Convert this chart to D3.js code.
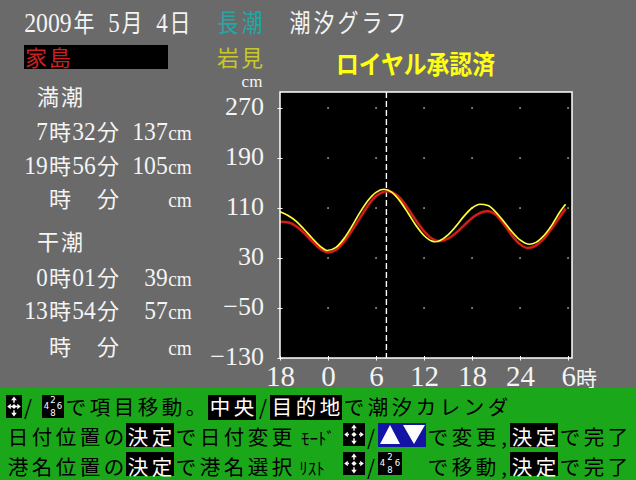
<!DOCTYPE html>
<html><head><meta charset="utf-8">
<script src="https://cdn.jsdelivr.net/npm/d3@7"></script>
<style>html,body{margin:0;padding:0;background:#6a6a6a;overflow:hidden}</style>
</head><body>
<svg id="c" width="636" height="480"></svg>
<script>
// ---------- data ----------
const dateTitle = "2009年 5月 4日";
const tideType = "長潮";
const chartTitle = "潮汐グラフ";
const portA = "家島";
const portB = "岩見";
const approval = "ロイヤル承認済";
const unitLabel = "cm";
const highTideLabel = " 満潮";
const lowTideLabel = " 干潮";
const highTides = [" 7時32分 137cm", "19時56分 105cm", "  時  分    cm"];
const lowTides = [" 0時01分  39cm", "13時54分  57cm", "  時  分    cm"];

const yTicks = [-130, -50, 30, 110, 190, 270];
const xTicks = [-6, 0, 6, 12, 18, 24, 30];
const xTickLabels = ["18", "0", "6", "12", "18", "24", "6"];
const hourUnit = "時";
const nowHour = 7.3;

// 家島 (red)
const redHours  = [-6, -5, -4, -3, -2, -1, 0, 1, 2, 3, 4, 5, 6, 7, 7.4, 8, 9, 10, 11, 12, 13, 13.9, 15, 16, 17, 18, 19, 19.9, 21, 22, 23, 24, 25, 26, 27, 28, 29, 29.7];
const redLevels = [88, 87, 81, 70, 57, 45, 39, 43, 56, 74, 94, 114, 129, 136, 137, 135, 126, 109, 90, 73, 61, 57, 61, 70, 82, 94, 102, 105, 99, 84, 66, 52, 46, 50, 61, 78, 96, 109];
// 岩見 (yellow)
const yellowHours  = [-6, -5, -4, -3, -2, -1, -0.1, 1, 2, 3, 4, 5, 6, 7, 8, 9, 10, 11, 12, 13, 13.4, 14, 15, 16, 17, 18, 19, 20, 21, 22, 23, 24, 25.2, 26, 27, 28, 29, 29.7];
const yellowLevels = [104, 98, 89, 76, 62, 49, 42, 47, 61, 81, 103, 122, 135, 140, 135, 121, 102, 82, 66, 57, 56, 58, 67, 81, 97, 110, 116, 114, 103, 88, 72, 59, 52, 55, 66, 83, 104, 116];

const help1 = ["/", "で項目移動。", "中央", "/", "目的地", "で潮汐カレンダ"];
const help2 = ["日付位置の", "決定", "で日付変更", "ﾓｰﾄﾞ", "/", "で変更,", "決定", "で完了"];
const help3 = ["港名位置の", "決定", "で港名選択", "ﾘｽﾄ", "/", "で移動,", "決定", "で完了"];
const padDigits = ["2", "4", "6", "8"];

// ---------- drawing ----------
const svg = d3.select('#c');
const FONT_SERIF = '"Liberation Serif", "DejaVu Serif", serif';
const FONT_CJK = '"Noto Sans CJK JP", "Noto Sans CJK SC", sans-serif';

svg.append('rect').attr('width', 636).attr('height', 480).attr('fill', '#6a6a6a');

function cat(ch) {
  const c = ch.codePointAt(0);
  if (ch === ' ') return 's';
  if (c >= 0x61 && c <= 0x7a) return 'l';
  if (c < 0x80) return 'a';
  if (c >= 0xFF61 && c <= 0xFF9F) return 'k';
  return 'f';
}
function cw(k) { return k === 'f' ? 24 : 12; }
function gridWidth(str) { return d3.sum([...str], ch => cw(cat(ch))); }
function textBlock(parent) {
  return parent.append('text').attr('text-anchor', 'middle').style('white-space', 'pre');
}
// lays characters of str on a 12/24px character grid as tspans of text t
function gridSpans(t, str, x0, y, o) {
  const chars = [...str];
  let x = o.anchor === 'end' ? x0 - gridWidth(str) : x0;
  let i = 0;
  while (i < chars.length) {
    const k = cat(chars[i]);
    let j = i + 1;
    if (k !== 'f') while (j < chars.length && cat(chars[j]) === k) j++;
    const s = chars.slice(i, j).join('');
    const w = (j - i) * cw(k);
    const ts = t.append('tspan').attr('x', x + w / 2).attr('y', y).attr('fill', o.fill).text(s);
    if (k === 'a' || k === 'l' || k === 's') {
      ts.attr('font-family', o.asciiFamily || FONT_SERIF)
        .attr('font-size', k === 'l' ? (o.low || o.num) : o.num);
    } else {
      ts.attr('font-family', FONT_CJK).attr('font-size', k === 'k' ? (o.kana || o.cjk) : o.cjk);
    }
    if (k === 'a' || k === 'l') {
      const nat = ts.node().getComputedTextLength();
      if (nat > w - 0.5) ts.attr('textLength', w - 0.5).attr('lengthAdjust', 'spacingAndGlyphs');
    }
    x += w; i = j;
  }
}

// header (row 1 drawn with a slight vertical stretch: tall, narrow digits)
const hdr1 = {num: 24, cjk: 21, low: 24};
const hdr2 = {num: 24, cjk: 22, low: 22};
svg.append('rect').attr('x', 24).attr('y', 45).attr('width', 144).attr('height', 24).attr('fill', '#000');
const th1 = textBlock(svg).attr('transform', 'translate(0,31.5) scale(1,1.18)');
gridSpans(th1, dateTitle, 24, 0, Object.assign({fill: '#f4f4f4'}, hdr1));
gridSpans(th1, tideType, 216, 0, Object.assign({fill: '#22a6a6'}, hdr1));
gridSpans(th1, chartTitle, 288, 0, Object.assign({fill: '#f4f4f4'}, hdr1));
const th2 = textBlock(svg);
gridSpans(th2, portA, 24, 65.5, Object.assign({fill: '#cc2020'}, hdr2));
gridSpans(th2, portB, 216, 65.5, Object.assign({fill: '#c8c82a'}, hdr2));
gridSpans(th2, unitLabel, 240, 87.2, {fill: '#f4f4f4', num: 17, low: 17, cjk: 17});
svg.append('text').attr('transform', 'translate(336,74) scale(1,1.12)')
  .attr('font-family', FONT_CJK).attr('font-weight', 'bold').attr('font-size', 23)
  .attr('fill', '#ffff10').attr('textLength', 159).attr('lengthAdjust', 'spacingAndGlyphs')
  .text(approval);

// left panel
const lp = {fill: '#f4f4f4', num: 25, cjk: 22, low: 22};
const tl = textBlock(svg);
gridSpans(tl, highTideLabel, 24, 105, lp);
const hiBase = [140, 174, 207];
highTides.forEach((s, i) => gridSpans(tl, s, 24, hiBase[i], lp));
gridSpans(tl, lowTideLabel, 24, 250, lp);
const loBase = [286, 319, 355];
lowTides.forEach((s, i) => gridSpans(tl, s, 24, loBase[i], lp));

// chart
const x = d3.scaleLinear().domain([-6, 30.5]).range([280, 572]);
const y = d3.scaleLinear().domain([-130, 295.6]).range([358, 92]);
const [x0, x1] = x.range(), [y0, y1] = y.range();

svg.append('rect').attr('x', x0).attr('y', y1).attr('width', x1 - x0).attr('height', y0 - y1).attr('fill', '#000');

const dots = [];
xTicks.filter(d => d > x.domain()[0]).forEach(xt => yTicks.filter(d => d > y.domain()[0]).forEach(yt => dots.push([xt, yt])));
svg.append('g').selectAll('rect').data(dots).join('rect')
  .attr('x', d => x(d[0]) - 0.6).attr('y', d => y(d[1]) - 0.6)
  .attr('width', 1.3).attr('height', 1.3).attr('fill', '#fff');

const line = d3.line().x(d => x(d[0])).y(d => y(d[1])).curve(d3.curveMonotoneX);
const redData = redHours.map((h, i) => [h, redLevels[i]]);
const yellowData = yellowHours.map((h, i) => [h, yellowLevels[i]]);

svg.append('line').attr('x1', x(nowHour)).attr('x2', x(nowHour)).attr('y1', y1).attr('y2', y0)
  .attr('stroke', '#fff').attr('stroke-width', 1.4).attr('stroke-dasharray', '6,3');

svg.append('path').datum(redData).attr('d', line).attr('fill', 'none')
  .attr('stroke', '#8a2a00').attr('stroke-width', 3.4).attr('stroke-opacity', 0.45);
svg.append('path').datum(redData).attr('d', line).attr('fill', 'none')
  .attr('stroke', '#d81c1c').attr('stroke-width', 2.2);
svg.append('path').datum(yellowData).attr('d', line).attr('fill', 'none')
  .attr('stroke', '#ffff3c').attr('stroke-width', 1.7);

svg.append('rect').attr('x', x0).attr('y', y1).attr('width', x1 - x0).attr('height', y0 - y1)
  .attr('fill', 'none').attr('stroke', '#fff').attr('stroke-width', 1.5);

const gy = svg.append('g').attr('transform', `translate(${x0},0)`)
  .call(d3.axisLeft(y).tickValues(yTicks).tickSizeInner(3).tickSizeOuter(0).tickPadding(13));
gy.select('.domain').remove();
gy.selectAll('.tick line').attr('stroke', '#fff').attr('x1', -2.5).attr('x2', 2.5);
gy.selectAll('.tick text').attr('fill', '#f4f4f4').attr('font-family', FONT_SERIF)
  .attr('font-size', 26).attr('dy', '0.24em');

const gx = svg.append('g').attr('transform', `translate(0,${y0})`)
  .call(d3.axisBottom(x).tickValues(xTicks).tickFormat((d, i) => xTickLabels[i])
    .tickSizeInner(2.5).tickSizeOuter(0).tickPadding(0));
gx.select('.domain').remove();
gx.selectAll('.tick line').attr('stroke', '#fff').attr('y1', -2).attr('y2', 2.5);
gx.selectAll('.tick text').attr('fill', '#f4f4f4').attr('font-family', FONT_SERIF)
  .attr('font-size', 29).attr('y', 28).attr('dy', 0);
const lastTick = gx.selectAll('.tick text').filter((d, i) => i === xTicks.length - 1);
lastTick.attr('text-anchor', 'start').attr('x', -7);
lastTick.append('tspan').attr('font-family', FONT_CJK).attr('font-size', 21).text(hourUnit);

// bottom help area
svg.append('rect').attr('x', 0).attr('y', 388).attr('width', 636).attr('height', 92).attr('fill', '#1aa81a');
const bt = {fill: '#000', num: 20.5, cjk: 20.5, kana: 17, asciiFamily: FONT_CJK};
const bw = Object.assign({}, bt, {fill: '#fff'});
const boxes = svg.append('g');
const icons = svg.append('g');
const tb = textBlock(svg);
const L1 = 415, L2 = 445, L3 = 475;

function plain(s, x, base) { gridSpans(tb, s, x, base, bt); }
function inv(s, x, base, top, h) {
  boxes.append('rect').attr('x', x).attr('y', top).attr('width', gridWidth(s)).attr('height', h).attr('fill', '#000');
  gridSpans(tb, s, x, base, bw);
}
function crossIcon(bx, by, w, h) {
  icons.append('rect').attr('x', bx).attr('y', by).attr('width', w).attr('height', h).attr('fill', '#000');
  const cx = bx + w / 2, cy = by + h / 2;
  const tri = `M${cx},${by + 1.5}L${cx + 2.8},${by + 5.2}L${cx - 2.8},${by + 5.2}Z` +
    `M${cx},${by + h - 1.5}L${cx + 2.8},${by + h - 5.2}L${cx - 2.8},${by + h - 5.2}Z` +
    `M${bx + 1.2},${cy}L${bx + 4.8},${cy - 2.8}L${bx + 4.8},${cy + 2.8}Z` +
    `M${bx + w - 1.2},${cy}L${bx + w - 4.8},${cy - 2.8}L${bx + w - 4.8},${cy + 2.8}Z` +
    `M${cx},${cy - 2.6}L${cx + 2.6},${cy}L${cx},${cy + 2.6}L${cx - 2.6},${cy}Z`;
  icons.append('path').attr('d', tri).attr('fill', '#fff');
  const stems = `M${cx},${by + 5}V${by + 7.8}M${cx},${by + h - 5}V${by + h - 7.8}` +
    `M${bx + 4.6},${cy}H${bx + 6}M${bx + w - 4.6},${cy}H${bx + w - 6}`;
  icons.append('path').attr('d', stems).attr('stroke', '#fff').attr('stroke-width', 1.4);
}
function padIcon(bx, by, w, h) {
  icons.append('rect').attr('x', bx).attr('y', by).attr('width', w).attr('height', h).attr('fill', '#000');
  const pos = [[w / 2, 7.5], [4.5, 14], [w - 4.5, 14], [w / 2, 21]];
  const tp = icons.append('text').attr('text-anchor', 'middle')
    .attr('font-family', '"DejaVu Sans", sans-serif').attr('font-size', 8.5).attr('fill', '#fff');
  padDigits.forEach((d, i) => tp.append('tspan').attr('x', bx + pos[i][0]).attr('y', by + pos[i][1]).text(d));
}
function upDownIcon(bx, by, w, h) {
  icons.append('rect').attr('x', bx).attr('y', by).attr('width', w).attr('height', h).attr('fill', '#1414a4');
  const p = `M${bx + 2},${by + h - 3}L${bx + w / 2 - 2},${by + h - 3}L${bx + w / 4},${by + 2}Z` +
    `M${bx + w / 2 + 1},${by + 2}L${bx + w - 1},${by + 2}L${bx + w * 3 / 4},${by + h - 3}Z`;
  icons.append('path').attr('d', p).attr('fill', '#fff');
}

// line 1
crossIcon(6, 395, 16, 23);
plain(help1[0], 22, L1);
padIcon(42, 395, 22, 23);
plain(help1[1], 64, L1);
inv(help1[2], 208, L1, 395, 25);
plain(help1[3], 257, L1);
inv(help1[4], 270, L1, 395, 25);
plain(help1[5], 342, L1);
// line 2
plain(help2[0], 6, L2);
inv(help2[1], 126, L2, 423, 24);
plain(help2[2], 174, L2);
plain(help2[3], 294, L2);
crossIcon(343, 423, 22, 23);
plain(help2[4], 365, L2);
upDownIcon(378, 423, 48, 24);
plain(help2[5], 426, L2);
inv(help2[6], 510, L2, 423, 24);
plain(help2[7], 558, L2);
// line 3
plain(help3[0], 6, L3);
inv(help3[1], 126, L3, 452, 24);
plain(help3[2], 174, L3);
plain(help3[3], 294, L3);
crossIcon(343, 452, 22, 23);
plain(help3[4], 365, L3);
padIcon(378, 452, 24, 23);
plain(help3[5], 426, L3);
inv(help3[6], 510, L3, 452, 24);
plain(help3[7], 558, L3);
</script>
</body></html>
